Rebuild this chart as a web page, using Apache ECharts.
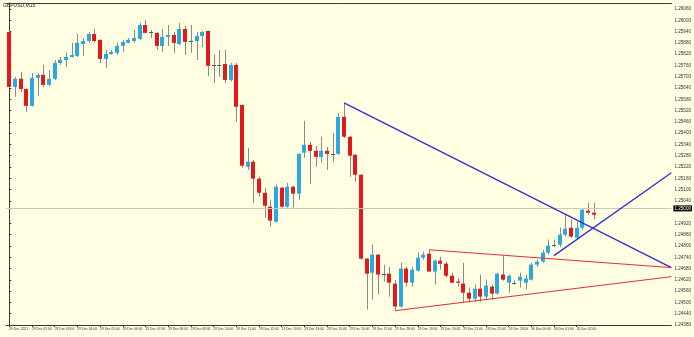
<!DOCTYPE html>
<html><head><meta charset="utf-8">
<script src="https://cdn.jsdelivr.net/npm/echarts@6/dist/echarts.min.js"></script>
<style>html,body{margin:0;padding:0;background:#FFFDE2;}#c{width:694px;height:337px;}</style>
</head><body><div id="c"></div>
<script>
const symbolTitle = "GBPUSD,M15";
const opens = [1.25938,1.25646,1.25689,1.25635,1.25545,1.25694,1.25710,1.25657,1.25689,1.25773,1.25789,1.25805,1.25811,1.25874,1.25890,1.25927,1.25896,1.25795,1.25821,1.25827,1.25864,1.25880,1.25890,1.25901,1.25975,1.25938,1.25933,1.25864,1.25912,1.25922,1.25874,1.25954,1.25890,1.25890,1.25917,1.25943,1.25763,1.25763,1.25768,1.25683,1.25763,1.25550,1.25221,1.25248,1.25158,1.25083,1.25009,1.24929,1.25110,1.25009,1.25115,1.25078,1.25296,1.25338,1.25306,1.25274,1.25306,1.25290,1.25290,1.25487,1.25381,1.25285,1.25179,1.24733,1.24658,1.24754,1.24653,1.24653,1.24600,1.24478,1.24680,1.24605,1.24669,1.24738,1.24759,1.24664,1.24722,1.24706,1.24642,1.24611,1.24600,1.24552,1.24520,1.24573,1.24531,1.24584,1.24547,1.24648,1.24605,1.24605,1.24616,1.24605,1.24621,1.24701,1.24717,1.24765,1.24807,1.24807,1.24860,1.24897,1.24844,1.24897,1.24988,1.24977];
const highs = [1.25945,1.25699,1.25726,1.25638,1.25720,1.25720,1.25763,1.25736,1.25789,1.25805,1.25827,1.25880,1.25927,1.25906,1.25938,1.25954,1.25898,1.25842,1.25842,1.25880,1.25896,1.25906,1.25949,1.25986,1.26002,1.25949,1.25936,1.25954,1.25975,1.25938,1.25986,1.25970,1.25975,1.25938,1.25943,1.25946,1.25816,1.25842,1.25842,1.25773,1.25773,1.25553,1.25322,1.25258,1.25168,1.25110,1.25046,1.25126,1.25115,1.25136,1.25120,1.25293,1.25466,1.25354,1.25333,1.25381,1.25327,1.25402,1.25508,1.25561,1.25384,1.25288,1.25182,1.24736,1.24807,1.24757,1.24701,1.24690,1.24621,1.24711,1.24690,1.24690,1.24765,1.24770,1.24780,1.24727,1.24743,1.24717,1.24658,1.24627,1.24711,1.24579,1.24595,1.24648,1.24621,1.24595,1.24658,1.24749,1.24648,1.24616,1.24658,1.24648,1.24711,1.24727,1.24780,1.24834,1.24834,1.24897,1.24966,1.24940,1.24929,1.24998,1.25030,1.25030];
const lows = [1.25640,1.25593,1.25619,1.25513,1.25542,1.25598,1.25646,1.25651,1.25683,1.25763,1.25752,1.25803,1.25805,1.25811,1.25880,1.25880,1.25773,1.25747,1.25816,1.25816,1.25832,1.25878,1.25880,1.25896,1.25930,1.25906,1.25842,1.25832,1.25864,1.25827,1.25869,1.25816,1.25827,1.25789,1.25858,1.25704,1.25667,1.25699,1.25667,1.25673,1.25460,1.25216,1.25205,1.25030,1.25062,1.24950,1.24903,1.24924,1.25004,1.25004,1.25004,1.25046,1.25269,1.25131,1.25221,1.25242,1.25205,1.25248,1.25285,1.25375,1.25168,1.25142,1.24727,1.24462,1.24515,1.24542,1.24611,1.24531,1.24456,1.24472,1.24584,1.24584,1.24664,1.24727,1.24662,1.24595,1.24674,1.24632,1.24603,1.24584,1.24499,1.24499,1.24504,1.24504,1.24515,1.24515,1.24542,1.24616,1.24552,1.24595,1.24579,1.24568,1.24616,1.24690,1.24711,1.24754,1.24796,1.24796,1.24850,1.24844,1.24834,1.24887,1.24966,1.24940];
const closes = [1.25646,1.25689,1.25635,1.25545,1.25694,1.25710,1.25657,1.25689,1.25773,1.25789,1.25805,1.25816,1.25880,1.25890,1.25927,1.25890,1.25795,1.25821,1.25832,1.25864,1.25885,1.25896,1.25906,1.25975,1.25933,1.25938,1.25864,1.25912,1.25922,1.25880,1.25954,1.25885,1.25890,1.25917,1.25938,1.25758,1.25763,1.25763,1.25683,1.25763,1.25540,1.25227,1.25248,1.25158,1.25083,1.25014,1.24935,1.25115,1.25009,1.25115,1.25078,1.25290,1.25338,1.25306,1.25274,1.25306,1.25290,1.25290,1.25487,1.25381,1.25280,1.25179,1.24733,1.24653,1.24754,1.24648,1.24653,1.24605,1.24478,1.24680,1.24605,1.24674,1.24738,1.24754,1.24664,1.24722,1.24706,1.24642,1.24605,1.24605,1.24552,1.24520,1.24573,1.24531,1.24589,1.24547,1.24653,1.24621,1.24642,1.24605,1.24637,1.24627,1.24701,1.24717,1.24765,1.24802,1.24807,1.24860,1.24892,1.24850,1.24897,1.24993,1.24977,1.24966];
const timeLabelBars = [0,4,8,12,16,20,24,28,32,36,40,44,48,52,56,60,64,68,72,76,80,84,88,92,96,100];
const timeLabels = ["29 Dec 2021","29 Dec 02:00","29 Dec 03:00","29 Dec 04:00","29 Dec 05:00","29 Dec 06:00","29 Dec 07:00","29 Dec 08:00","29 Dec 09:00","29 Dec 10:00","29 Dec 11:00","29 Dec 12:00","29 Dec 13:00","29 Dec 14:00","29 Dec 15:00","29 Dec 16:00","29 Dec 17:00","29 Dec 18:00","29 Dec 19:00","29 Dec 20:00","29 Dec 21:00","29 Dec 22:00","29 Dec 23:00","30 Dec 00:00","30 Dec 01:00","30 Dec 02:00"];
const priceTicks = [1.26060,1.26000,1.25940,1.25880,1.25820,1.25760,1.25700,1.25640,1.25580,1.25520,1.25460,1.25400,1.25340,1.25280,1.25220,1.25160,1.25100,1.25040,1.24920,1.24860,1.24800,1.24740,1.24680,1.24620,1.24560,1.24500,1.24440,1.24380];
const trendBlueDown = [[59,1.25561],[116.7,1.24685]];
const trendBlueUp = [[96,1.24749],[116.7,1.25189]];
const trendRedUpper = [[74,1.24780],[116.7,1.24685]];
const trendRedLower = [[68,1.24456],[116.7,1.24637]];

const BULL = '#2AA8E0', BEAR = '#E2181C', WICK = '#8a8a8a', DOJI = '#555555';
const FONT = 'Liberation Sans';
const candleData = opens.map((o, i) => [i, o, closes[i], lows[i], highs[i]]);
const lastClose = closes[closes.length - 1];

function renderItem(params, api) {
  const x = api.value(0), o = api.value(1), c = api.value(2), l = api.value(3), h = api.value(4);
  const po = api.coord([x, o]), pc = api.coord([x, c]), pl = api.coord([x, l]), ph = api.coord([x, h]);
  const px = Math.round(po[0]);
  const cx = px + 0.5;
  const bw = 4;
  const children = [{ type: 'line', shape: { x1: cx, y1: ph[1], x2: cx, y2: pl[1] }, style: { stroke: WICK, lineWidth: 1 } }];
  if (c === o) {
    const y = Math.round(po[1]) + 0.5;
    children.push({ type: 'line', shape: { x1: px - 2, y1: y, x2: px + 2, y2: y }, style: { stroke: DOJI, lineWidth: 1 } });
  } else {
    const top = Math.min(po[1], pc[1]);
    const hgt = Math.max(Math.abs(po[1] - pc[1]), 1);
    children.push({ type: 'rect', shape: { x: px - 2, y: top, width: bw, height: hgt }, style: { fill: c > o ? BULL : BEAR } });
  }
  return { type: 'group', children };
}

function trend(data, color, width) {
  return { type: 'line', data, symbol: 'none', silent: true, z: 5, animation: false,
    lineStyle: { color, width } };
}

const chart = echarts.init(document.getElementById('c'), null, { renderer: 'canvas' });
chart.setOption({
  backgroundColor: '#FFFDE2',
  animation: false,
  textStyle: { fontFamily: FONT },
  graphic: [{ type: 'text', left: 3, top: 3, style: { text: symbolTitle, fontSize: 5, fill: '#222', fontFamily: FONT } }],
  grid: { left: 6, right: 16, top: 3, bottom: 12, containLabel: false },
  xAxis: [{
    type: 'value', min: -0.58, max: 116.7, position: 'bottom',
    axisLine: { show: true, lineStyle: { color: '#3a3a3a', width: 1 } },
    axisTick: { show: true, customValues: timeLabelBars, length: 2, lineStyle: { color: '#3a3a3a' } },
    axisLabel: { customValues: timeLabelBars, align: 'left', margin: 3, fontSize: 3.3, color: '#333',
      formatter: v => timeLabels[timeLabelBars.indexOf(Math.round(v))] || '' },
    splitLine: { show: false }
  }, {
    type: 'value', min: -0.58, max: 116.7, position: 'top',
    axisLine: { show: true, onZero: false, lineStyle: { color: '#3a3a3a', width: 1 } },
    axisTick: { show: false }, axisLabel: { show: false }, splitLine: { show: false }
  }],
  yAxis: {
    type: 'value', position: 'right', min: 1.24380, max: 1.26092, scale: true,
    axisLine: { show: true, lineStyle: { color: '#3a3a3a', width: 1 } },
    axisTick: { show: true, customValues: priceTicks, length: 2, lineStyle: { color: '#3a3a3a' } },
    axisLabel: { customValues: priceTicks, margin: 3, fontSize: 4.6, color: '#333', formatter: v => v.toFixed(5) },
    splitLine: { show: false }
  },
  series: [
    { type: 'custom', renderItem, data: candleData, encode: { x: 0, y: [1, 2, 3, 4] }, clip: true, z: 3,
      markLine: { silent: true, symbol: 'none', animation: false,
        lineStyle: { color: '#cdcab2', width: 1, type: 'solid' },
        label: { show: true, position: 'end', distance: 2, formatter: p => p.value.toFixed(5), fontSize: 4.6,
          color: '#fff', backgroundColor: '#000', padding: [1, 1, 0, 1], fontFamily: FONT },
        data: [{ yAxis: lastClose }] } },
    trend(trendBlueDown, '#3030D0', 1.3),
    trend(trendBlueUp, '#3030D0', 1.3),
    trend(trendRedUpper, '#E03030', 1),
    trend(trendRedLower, '#E03030', 1)
  ]
});
</script></body></html>
